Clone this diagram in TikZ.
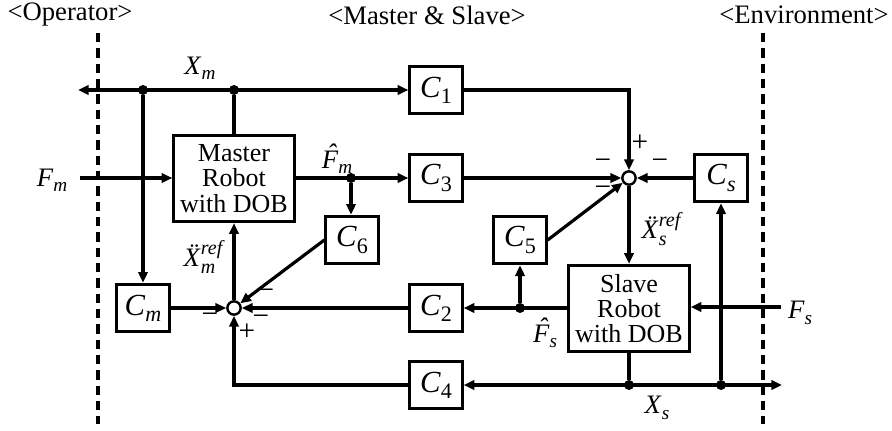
\documentclass[tikz,border=0pt]{standalone}
\usepackage{fontspec}
\setmainfont{Liberation Serif}
\usepackage{graphicx}
\usetikzlibrary{arrows.meta}
\newcommand{\vsub}[2]{\textit{#1}\raisebox{-0.2em}{\scalebox{0.72}{#2}}}
\newcommand{\hatF}{{\itshape\accent"02C6 F}}
\newcommand{\supsub}[3]{\textit{#1}\rlap{\raisebox{0.45em}{\scalebox{0.75}{\itshape #2}}}\rlap{\raisebox{-0.25em}{\scalebox{0.75}{\itshape #3}}}\hphantom{\scalebox{0.75}{\itshape #2}}}
\begin{document}
\begin{tikzpicture}[x=0.75pt,y=-0.75pt,
 blk/.style={draw, line width=2.2pt, minimum width=39.3pt, minimum height=35.8pt, inner sep=0pt, font=\fontsize{23}{24}\selectfont},
 big/.style={draw, line width=2.2pt, minimum width=90.3pt, minimum height=64.8pt, inner sep=0pt, align=center, font=\fontsize{19.5}{19}\selectfont},
 sumc/.style={circle, draw, line width=1.8pt, minimum size=10pt, inner sep=0pt, fill=white},
 con/.style={line width=2.4pt},
 arr/.style={con, -{Triangle[length=8pt,width=7pt]}},
 both/.style={con, {Triangle[length=8pt,width=7pt]}-{Triangle[length=8pt,width=7pt]}},
 dot/.style={circle, fill, inner sep=0pt, minimum size=7.5pt},
 lbl/.style={font=\fontsize{20}{22}\selectfont, inner sep=0pt},
 sgn/.style={font=\fontsize{22}{22}\selectfont, inner sep=0pt},
 divider/.style={line width=2.4pt, dash pattern=on 7pt off 4.5pt}]
\useasboundingbox (0,0) rectangle (892,431);
% dividers
\coordinate (dvLt) at (98,33); \coordinate (dvLb) at (98,424);
\coordinate (dvRt) at (763,33); \coordinate (dvRb) at (763,424);
\draw[divider] (dvLt) -- (dvLb);
\draw[divider] (dvRt) -- (dvRb);
% top labels
\node[lbl] (tOp) at (70,15) {<Operator>};
\node[lbl] (tMS) at (427,15) {<Master \& Slave>};
\node[lbl] (tEn) at (804,15) {<Environment>};
% blocks
\node[big] (M) at (234,178.5) {Master\\Robot\\with DOB};
\node[big] (S) at (629,308.5) {Slave\\Robot\\with DOB};
\node[blk] (C1) at (436,90) {\vsub{C}{1}};
\node[blk] (C3) at (436,178) {\vsub{C}{3}};
\node[blk] (C2) at (436,308) {\vsub{C}{2}};
\node[blk] (C4) at (436,385) {\vsub{C}{4}};
\node[blk] (C6) at (352,240) {\vsub{C}{6}};
\node[blk] (C5) at (520,240) {\vsub{C}{5}};
\node[blk] (Cm) at (143,308) {\vsub{C}{\itshape m}};
\node[blk] (Cs) at (721,178) {\vsub{C}{\itshape s}};
\node[sumc] (sm) at (234,308) {};
\node[sumc] (ss) at (629,178) {};
% free ends
\coordinate (xmL) at (78,90);
\coordinate (fm) at (80,178);
\coordinate (fs) at (781,307);
\coordinate (xsR) at (782,385);
% dots
\node[dot] (d1) at (143,90) {};
\node[dot] (d2) at (234,90) {};
\node[dot] (d3) at (351,178) {};
\node[dot] (d5) at (520,308) {};
\node[dot] (d6) at (629,385) {};
\node[dot] (d7) at (721,385) {};
% connectors
\draw[both] (xmL) -- (C1.west);
\draw[con] (M.north) -- (d2);
\draw[arr] (d1) -- (d1 |- Cm.north);
\draw[arr] (C1.east) -| (ss.north);
\draw[arr] (fm) -- (fm -| M.west);
\draw[arr] (M.east |- C3) -- (C3.west);
\draw[arr] (d3) -- (d3 |- C6.north);
\draw[arr] (C3.east) -- (ss.west);
\draw[arr] (Cs.west) -- (ss.east);
\draw[arr] (C5.east) -- (ss);
\draw[arr] (ss.south) -- (S.north);
\draw[arr] (fs) -- (fs -| S.east);
\draw[arr] (S.west |- C2) -- (C2.east);
\draw[arr] (d5) -- (d5 |- C5.south);
\draw[both] (C4.east) -- (xsR);
\draw[con] (S.south) -- (d6);
\draw[arr] (d7) -- (Cs.south);
\draw[arr] (C2.west) -- (sm.east);
\draw[arr] (Cm.east) -- (sm.west);
\draw[arr] (C6.west) -- (sm);
\draw[arr] (sm.north) -- (M.south);
\draw[arr] (C4.west) -| (sm.south);
% signal labels
\node[lbl] (lXm) at (200,68) {\vsub{X}{\itshape m}};
\node[lbl] (lFm) at (52,180) {\vsub{F}{\itshape m}};
\node[lbl] (lFhm) at (337,159) {\vsub{\hatF}{\itshape m}};
\node[lbl] (lXrm) at (203,257) {\supsub{\"X}{ref}{m}};
\node[lbl] (lXrs) at (661,229) {\supsub{\"X}{ref}{s}};
\node[lbl] (lFhs) at (545,333) {\vsub{\hatF}{\itshape s}};
\node[lbl] (lXs) at (657,408) {\vsub{X}{\itshape s}};
\node[lbl] (lFs) at (800,313) {\vsub{F}{\itshape s}};
% signs
\node[sgn] (s1) at (210,318) {−};
\node[sgn] (s2) at (266,294) {−};
\node[sgn] (s3) at (261,320) {−};
\node[sgn] (s4) at (247,332) {+};
\node[sgn] (s5) at (640,143) {+};
\node[sgn] (s6) at (603,164) {−};
\node[sgn] (s7) at (660,164) {−};
\node[sgn] (s8) at (603,191) {−};
\end{tikzpicture}
\end{document}
